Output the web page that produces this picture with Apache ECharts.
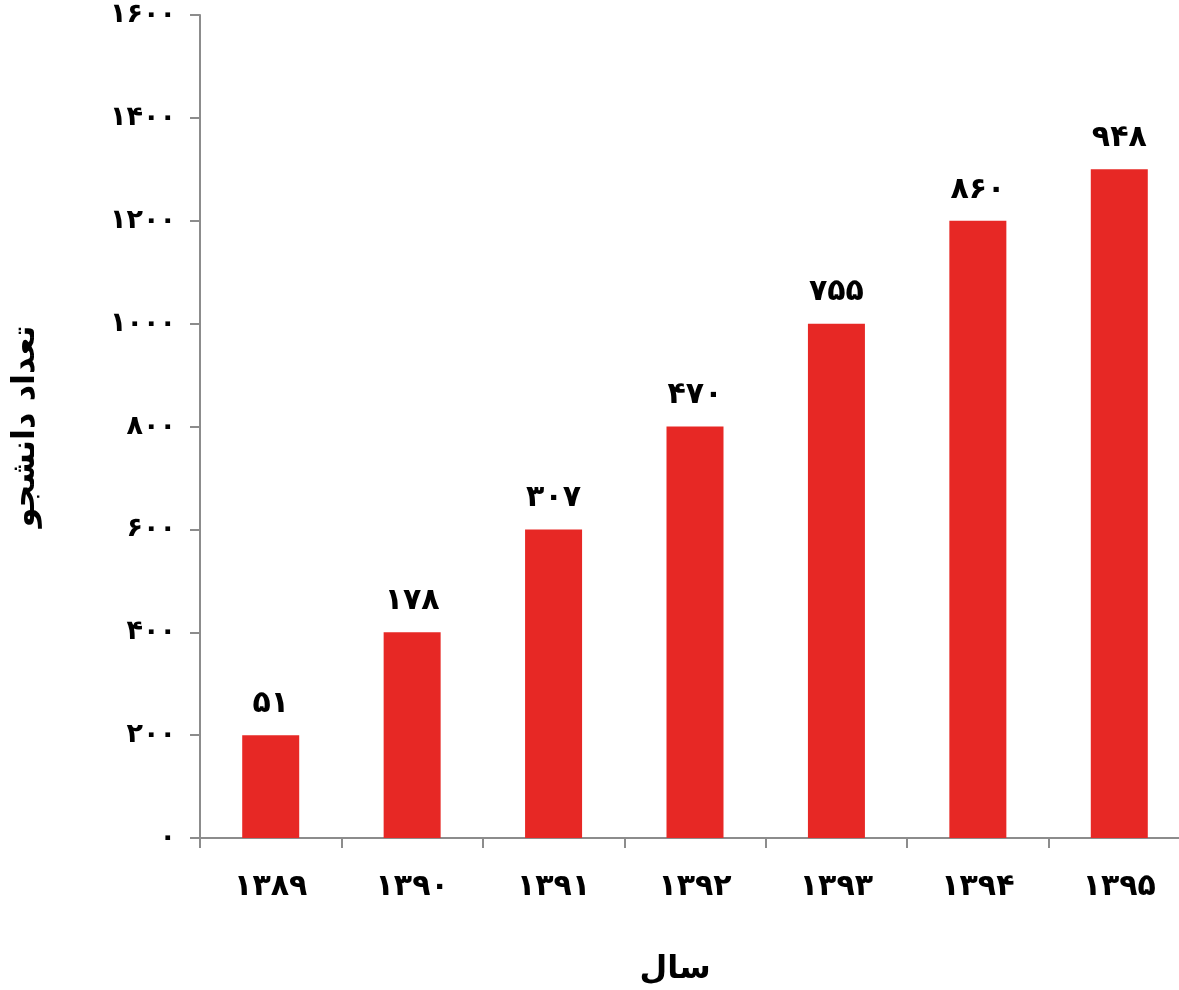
<!DOCTYPE html>
<html>
<head>
<meta charset="utf-8">
<script src="https://cdn.jsdelivr.net/npm/echarts@6/dist/echarts.min.js"></script>
<style>
html,body{margin:0;padding:0;background:#fff;}
#main{width:1179px;height:990px;}
</style>
</head>
<body>
<div id="main"></div>
<script>
// Data
const categories = ['۱۳۸۹', '۱۳۹۰', '۱۳۹۱', '۱۳۹۲', '۱۳۹۳', '۱۳۹۴', '۱۳۹۵'];
const barValues = [200, 400, 600, 800, 1000, 1200, 1300];
const barLabels = [51, 178, 307, 470, 755, 860, 948];
const yMin = 0, yMax = 1600, yStep = 200;
const xTitle = 'سال';
const yTitle = 'تعداد دانشجو';

const fa = n => String(n).replace(/[0-9]/g, d => '۰۱۲۳۴۵۶۷۸۹'[+d]);
const FONT = '"DejaVu Sans", sans-serif';
const axisGrey = '#8c8c8c';

const chart = echarts.init(document.getElementById('main'));
chart.setOption({
  backgroundColor: '#ffffff',
  animation: false,
  grid: { left: 200, top: 15, width: 990, bottom: 152, containLabel: false, outerBoundsMode: 'none' },
  xAxis: {
    type: 'category',
    data: categories,
    name: xTitle,
    nameLocation: 'middle',
    nameGap: 116,
    nameTextStyle: { fontFamily: FONT, fontWeight: 'bold', fontSize: 32, color: '#000', padding: [0, 40, 0, 0] },
    axisLine: { lineStyle: { color: axisGrey, width: 2 } },
    axisTick: { show: true, alignWithLabel: false, length: 10, lineStyle: { color: axisGrey, width: 2 } },
    axisLabel: { fontFamily: FONT, fontWeight: 'bold', fontSize: 30, color: '#000', margin: 34 },
    splitLine: { show: false }
  },
  yAxis: {
    type: 'value',
    min: yMin, max: yMax, interval: yStep,
    name: yTitle,
    nameLocation: 'middle',
    nameRotate: 90,
    nameGap: 158,
    nameTextStyle: { fontFamily: FONT, fontWeight: 'bold', fontSize: 32, color: '#000' },
    axisLine: { show: true, lineStyle: { color: axisGrey, width: 2 } },
    axisTick: { show: true, length: 10, lineStyle: { color: axisGrey, width: 2 } },
    axisLabel: { fontFamily: FONT, fontWeight: 'bold', fontSize: 27, color: '#000', margin: 24, formatter: v => fa(v) },
    splitLine: { show: false }
  },
  series: [{
    type: 'bar',
    data: barValues,
    barWidth: 57,
    itemStyle: { color: '#e72825' },
    label: {
      show: true,
      position: 'top',
      distance: 16,
      fontFamily: FONT, fontWeight: 'bold', fontSize: 30, color: '#000',
      formatter: p => fa(barLabels[p.dataIndex])
    }
  }]
});
</script>
</body>
</html>
